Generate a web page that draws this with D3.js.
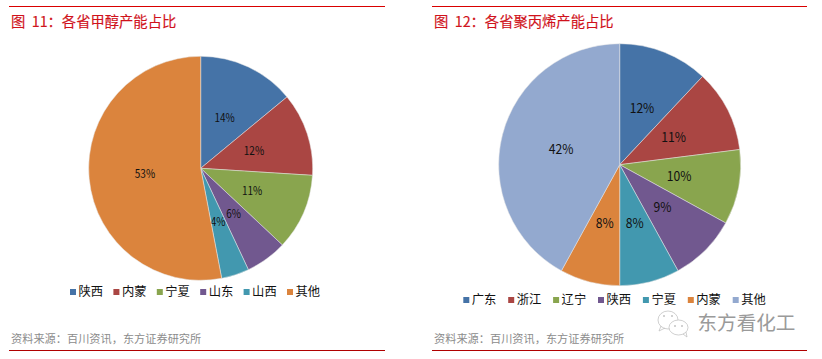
<!DOCTYPE html>
<html>
<head>
<meta charset="utf-8">
<script src="https://cdn.jsdelivr.net/npm/d3@7/dist/d3.min.js"></script>
<style>
  html, body { margin: 0; padding: 0; background: #fff; }
  svg { display: block; }
  text { font-family: "Noto Sans CJK SC", "Liberation Sans", sans-serif; white-space: pre; }
</style>
</head>
<body>
<div id="chart"></div>
<script>
var methanolProvinces = ["陕西", "内蒙", "宁夏", "山东", "山西", "其他"];
var methanolShares = [14, 12, 11, 6, 4, 53];

var propyleneProvinces = ["广东", "浙江", "辽宁", "陕西", "宁夏", "内蒙", "其他"];
var propyleneShares = [12, 11, 10, 9, 8, 8, 42];

var palette = ["#4573a7", "#aa4643", "#89a54e", "#71588f", "#4298af", "#db843d", "#93a9cf"];

var svg = d3.select("#chart").append("svg")
    .attr("width", 822)
    .attr("height", 359)
    .attr("viewBox", "0 0 822 359");

function buildPanel(options, names, values) {
    var color = d3.scaleOrdinal().domain(names).range(palette);

    var panel = svg.append("g");

    // rules above and below the figure
    panel.append("line")
        .attr("x1", options.left).attr("x2", options.right)
        .attr("y1", 6.5).attr("y2", 6.5)
        .attr("stroke", "#d90000").attr("stroke-width", 1);
    panel.append("line")
        .attr("x1", options.left).attr("x2", options.right)
        .attr("y1", 350.5).attr("y2", 350.5)
        .attr("stroke", "#b00000").attr("stroke-width", 1);

    panel.append("text")
        .attr("x", options.left + 2).attr("y", 26.5)
        .attr("font-size", 14.3).attr("fill", "#d0121b")
        .attr("stroke", "#d0121b").attr("stroke-width", 0.15)
        .text(options.title);

    panel.append("text")
        .attr("x", options.left + 2).attr("y", 343)
        .attr("font-size", 11.2).attr("fill", "#8c8c8c")
        .text("资料来源：百川资讯，东方证券研究所");

    //Pie Generator
    var pie = d3.pie().sort(null).value(function(d) { return d; });

    var arc = d3.arc().innerRadius(0).outerRadius(options.radius);

    var slices = panel.append("g")
        .attr("transform", "translate(" + options.cx + "," + options.cy + ")")
        .selectAll(".arc")
        .data(pie(values))
        .enter().append("g")
        .attr("class", "arc");

    slices.append("path")
        .attr("d", arc)
        .attr("fill", function(d, i) { return color(names[i]); })
        .attr("stroke", "#e6e6e6")
        .attr("stroke-width", 0.5);

    // labels are a little condensed in the reference
    slices.append("text")
        .attr("transform", function(d) {
            return "translate(" + arc.centroid(d) + ") scale(" + options.labelSqueeze + ",1)";
        })
        .attr("dy", ".35em")
        .attr("text-anchor", "middle")
        .attr("font-size", options.labelSize)
        .attr("font-family", "'Liberation Sans', sans-serif")
        .attr("fill", "#111")
        .text(function(d) { return d.data + "%"; });

    // legend
    var legendX = d3.scaleBand()
        .domain(names)
        .range([options.legendX, options.legendX + options.legendStep * names.length]);

    var legend = panel.selectAll(".legend")
        .data(names)
        .enter().append("g")
        .attr("class", "legend")
        .attr("transform", function(d) { return "translate(" + legendX(d) + "," + options.legendY + ")"; });

    legend.append("rect")
        .attr("x", 0).attr("y", -3)
        .attr("width", 6).attr("height", 6)
        .attr("fill", function(d) { return color(d); });

    legend.append("text")
        .attr("x", 8.5).attr("dy", ".36em")
        .attr("font-size", 12.3).attr("fill", "#111")
        .text(function(d) { return d; });
}

buildPanel({
    title: "图  11：各省甲醇产能占比",
    left: 9, right: 385,
    cx: 200.7, cy: 168.3, radius: 112, labelSize: 11.5, labelSqueeze: 0.87,
    legendX: 70, legendY: 292, legendStep: 43.4
}, methanolProvinces, methanolShares);

buildPanel({
    title: "图  12：各省聚丙烯产能占比",
    left: 432, right: 807,
    cx: 619.7, cy: 164.7, radius: 121, labelSize: 13.5, labelSqueeze: 0.9,
    legendX: 463.3, legendY: 300, legendStep: 44.9
}, propyleneProvinces, propyleneShares);

// watermark: chat bubbles + account name
var mark = svg.append("g").attr("fill", "none").attr("stroke", "#bbb").attr("stroke-width", 0.7);
mark.append("ellipse").attr("cx", 668).attr("cy", 320).attr("rx", 10).attr("ry", 9);
mark.append("path").attr("d", "M661 326 L659 331 L665 328");
mark.append("ellipse").attr("cx", 678.5).attr("cy", 327.5).attr("rx", 9.5).attr("ry", 7.5).attr("fill", "#fff");
mark.append("path").attr("d", "M683 334 L687 337 L686 332");
mark.selectAll("circle")
    .data([[664, 316], [672, 316], [675, 326], [682, 326]])
    .enter().append("circle")
    .attr("cx", function(d) { return d[0]; })
    .attr("cy", function(d) { return d[1]; })
    .attr("r", 0.8)
    .attr("fill", "#999").attr("stroke", "none");
svg.append("text")
    .attr("x", 697.5).attr("y", 330)
    .attr("font-size", 19.6).attr("fill", "#9a9a9a")
    .text("东方看化工");
</script>
</body>
</html>
